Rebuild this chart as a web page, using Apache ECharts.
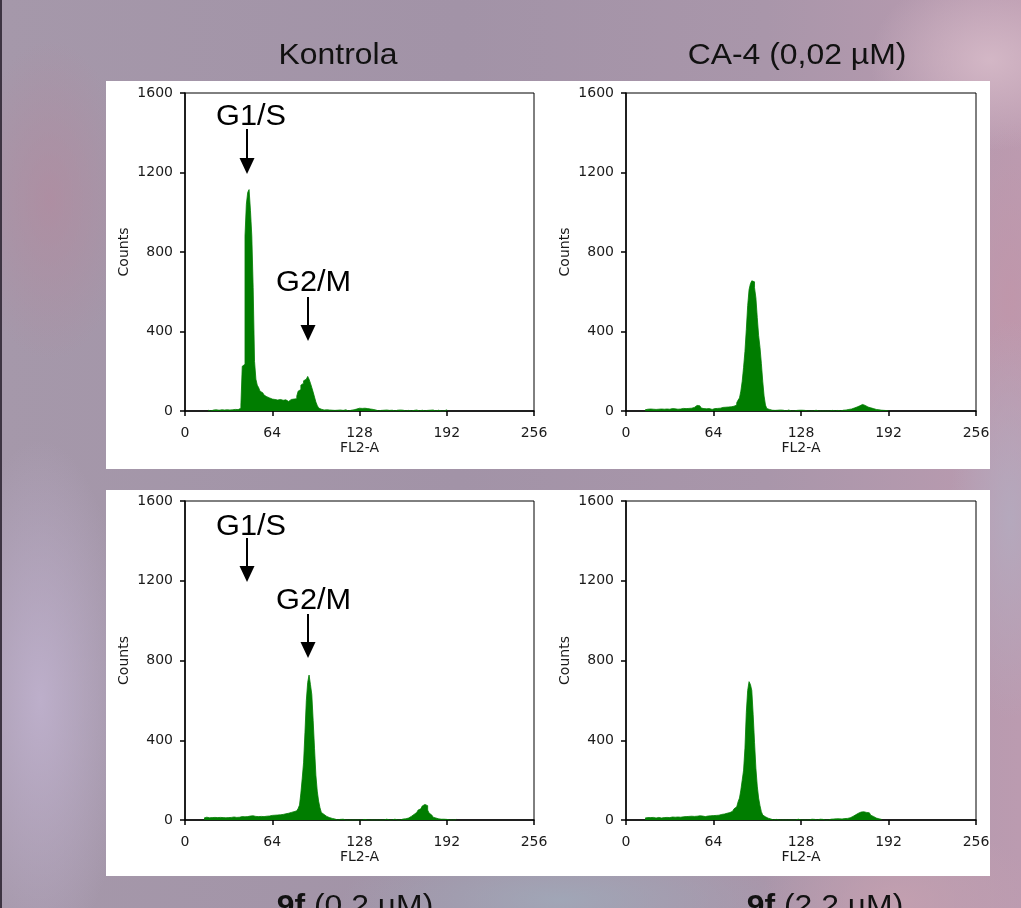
<!DOCTYPE html>
<html>
<head>
<meta charset="utf-8">
<title>FL2-A histogrami</title>
<script src="https://cdn.jsdelivr.net/npm/echarts@6/dist/echarts.min.js"></script>
<style>
html, body { margin: 0; padding: 0; }
body {
    width: 1021px; height: 908px; overflow: hidden; position: relative;
    background:
        radial-gradient(ellipse 120px 90px at 990px 60px, rgba(214,186,200,0.9), rgba(214,186,200,0) 100%),
        radial-gradient(ellipse 90px 260px at 40px 700px, rgba(190,176,204,0.95), rgba(190,176,204,0) 100%),
        radial-gradient(ellipse 80px 160px at 50px 200px, rgba(176,140,160,0.8), rgba(176,140,160,0) 100%),
        radial-gradient(ellipse 220px 60px at 560px 900px, rgba(160,168,184,0.9), rgba(160,168,184,0) 100%),
        radial-gradient(ellipse 140px 80px at 900px 900px, rgba(196,160,176,0.9), rgba(196,160,176,0) 100%),
        radial-gradient(ellipse 60px 200px at 1010px 520px, rgba(180,170,190,0.9), rgba(180,170,190,0) 100%),
        radial-gradient(ellipse 60px 180px at 1010px 300px, rgba(192,150,170,0.9), rgba(192,150,170,0) 100%),
        linear-gradient(90deg, #a598aa 0%, #a293a7 45%, #a996aa 75%, #bb9bb0 100%);
}
#main { position: absolute; left: 0; top: 0; width: 1021px; height: 908px; }
</style>
</head>
<body>
<div id="main"></div>
<script>
// tick labels (shared by all four panels)
const xTicks = [0, 64, 128, 192, 256]
const yTicks = [0, 400, 800, 1200, 1600]
const panelTitles = ['Kontrola', 'CA-4 (0,02 µM)', '{b|9f} (0,2 µM)', '{b|9f} (2,2 µM)']

// counts per FL2-A channel; each array begins at its *Start channel
const ctrlStart = 17
const ctrlCounts = [
    4, 0, 5, 5, 3, 6, 0, 4, 5, 6, 3, 5, 4, 6, 5, 5, 7, 6, 5, 8, 6, 7, 9, 14,
    30, 225, 235, 880, 1040, 1100, 1114, 1010, 880, 620, 250, 160,
    130, 118, 100, 92, 86, 80, 72, 76, 66, 70, 60, 64, 58, 62, 55, 52, 58, 50, 54, 48, 56, 50, 48, 55, 58, 52, 60, 56, 62,
    75, 100, 108, 130, 140, 152, 160, 168, 174, 160, 140, 118, 95, 70, 45, 28, 15, 9, 6,
    5, 4, 6, 3, 5, 0, 4, 5, 3, 6, 4, 0, 5, 4, 3, 5, 6, 4, 0, 5, 4, 3, 6,
    8, 10, 12, 14, 15, 13, 16, 14, 15, 12, 13, 10, 11, 8, 6,
    5, 4, 0, 5, 3, 6, 4, 0, 5, 4, 3, 0, 4, 5, 0, 3, 4, 0, 5, 3, 4, 0, 0, 4, 3, 5, 0, 4, 3, 0, 5, 4, 0, 3, 4, 0, 0, 5, 3, 0, 4, 0, 5, 3, 0, 0, 4, 0, 0, 0, 0, 0, 6
]

const ca4Start = 14
const ca4Counts = [
    6, 9, 8, 10, 7, 9, 11, 8, 10, 9, 7, 10, 8, 9, 11, 10, 8, 9, 10, 12, 9, 11, 10, 9, 12, 10, 11, 13, 10, 12, 11, 13, 12, 14, 16, 18,
    22, 28, 30, 26, 20, 15,
    12, 10, 11, 9, 12, 10, 8, 11, 12, 10, 13, 15, 14, 16, 18, 17, 19, 18, 20, 22, 21, 20, 24, 26,
    30, 42, 55, 66, 100, 150, 220, 300, 410, 530, 610, 640, 655, 650, 620, 570, 470, 380, 320, 240, 150, 75, 30, 12, 8,
    5, 4, 6, 3, 5, 4, 0, 5, 3, 4, 6, 0, 4, 5, 3, 0, 4, 0, 5, 3, 0, 4, 0, 4, 0, 3, 4,
    0, 0, 0, 0, 0, 0, 4, 0, 0, 0, 0, 0, 0, 0, 0, 0, 0, 0, 3,
    4, 0, 5, 3, 4, 0, 5, 4, 6, 5, 7, 8, 9, 10, 12, 15, 18, 20, 23, 26, 30, 33, 32, 28, 24, 20, 19, 16, 14, 12, 10, 8, 7, 6, 5, 4, 4, 3, 3, 2, 0
]

const low9fStart = 14
const low9fCounts = [
    10, 14, 12, 11, 10, 12, 11, 13, 10, 12, 11, 13, 12, 12, 14, 11, 13,
    12, 14, 13, 12, 15, 14, 13, 16, 14, 15, 17, 15, 16, 18, 17, 19, 20, 18, 21, 19,
    18, 20, 17, 19, 18, 20, 17, 21, 19, 22, 20, 21, 23, 22, 24, 23, 25, 24, 26,
    27, 28, 30, 31, 32, 34, 36, 38, 40, 42, 44, 46, 50, 58,
    75, 135, 210, 290, 440, 600, 690, 727, 680, 630, 500, 360, 225, 145, 95, 62, 38, 28, 22, 18, 14, 12, 10, 8, 6,
    5, 4, 0, 5, 3, 0, 4, 0, 0, 3, 0, 0, 0, 0, 0, 4, 0, 0, 0, 0, 0, 0, 3, 0, 0, 0, 0, 0, 0, 4, 0, 0, 0, 3, 0, 0, 0, 0, 4, 0, 0, 3, 0, 0, 4, 0, 0, 3, 0, 4, 5, 4,
    6, 8, 10, 14, 18, 22, 28, 33, 38, 44, 50, 56, 62, 70, 78, 84, 72, 50, 35, 25, 18, 14, 10, 8, 6, 5, 4, 3, 4, 0, 3, 0, 0, 4, 0, 0, 0, 3
]

const high9fStart = 14
const high9fCounts = [
    10, 12, 14, 12, 11, 13, 12, 10, 11, 13, 12, 10, 11, 12, 14, 13, 11, 12, 13, 15, 12, 14, 13, 15, 16, 14, 13, 16, 18, 17, 15, 18, 17, 19, 16, 18, 20, 19, 17, 21, 18, 20, 19, 17, 18, 20, 19,
    21, 20, 22, 24, 23, 25, 24, 26, 28, 27, 30, 32, 34, 35, 37, 40, 44, 48, 56, 66,
    75, 92, 110, 150, 200, 250, 360, 540, 650, 694, 680, 650, 530, 390, 260, 170, 110, 72, 42, 25, 16, 12, 9,
    6, 5, 4, 0, 5, 3, 4, 0, 5, 0, 4, 0, 3, 0, 4, 0, 0, 0, 3, 0, 0, 4, 0, 0, 0, 0, 3, 0, 0, 0, 0, 4, 0, 3, 0, 0, 0, 4, 0, 3, 0, 0, 4, 0, 5, 4, 0, 5, 4, 6, 5, 6, 7, 5, 8, 7, 9, 8, 10, 11,
    14, 18, 22, 26, 30, 34, 38, 40, 42, 41, 40, 38, 42, 36, 30, 24, 18, 14, 10, 8, 6, 4, 3
]

// histogram as a step line: each channel is flat from ch to ch+1
function toSteps(start, counts) {
    const pts = counts.map((v, i) => [start + i, v])
    pts.push([start + counts.length, 0])
    return pts
}

const histograms = [
    toSteps(ctrlStart, ctrlCounts),
    toSteps(ca4Start, ca4Counts),
    toSteps(low9fStart, low9fCounts),
    toSteps(high9fStart, high9fCounts)
]

const green = '#007d00'
const tickFont = { fontFamily: 'DejaVu Sans', fontSize: 14, color: '#1a1a1a' }
const bigFont = 'Liberation Sans'

// plot boxes of the four panels
const boxes = [
    { left: 185, top: 93, width: 349, height: 318 },
    { left: 626, top: 93, width: 350, height: 318 },
    { left: 185, top: 501, width: 349, height: 319 },
    { left: 626, top: 501, width: 350, height: 319 }
]

const grids = boxes.map(b => ({
    left: b.left, top: b.top, width: b.width, height: b.height,
    show: true, borderColor: '#000', borderWidth: 1, backgroundColor: 'transparent'
}))

const xAxes = boxes.map((b, i) => ({
    type: 'value', gridIndex: i,
    min: xTicks[0], max: xTicks[xTicks.length - 1], interval: xTicks[1] - xTicks[0],
    name: 'FL2-A', nameLocation: 'middle', nameGap: 30,
    nameTextStyle: tickFont,
    axisLine: { show: true, onZero: false, lineStyle: { color: '#000', width: 1.5 } },
    axisTick: { show: true, inside: false, length: 5, lineStyle: { color: '#000', width: 1.5 } },
    axisLabel: Object.assign({ margin: 15, formatter: v => String(v) }, tickFont),
    splitLine: { show: false }
}))

const yAxes = boxes.map((b, i) => ({
    type: 'value', gridIndex: i,
    min: yTicks[0], max: yTicks[yTicks.length - 1], interval: yTicks[1] - yTicks[0],
    name: 'Counts', nameLocation: 'middle', nameGap: 54,
    nameTextStyle: tickFont,
    axisLine: { show: true, lineStyle: { color: '#000', width: 1.5 } },
    axisTick: { show: true, inside: false, length: 5, lineStyle: { color: '#000', width: 1.5 } },
    axisLabel: Object.assign({ margin: 12, formatter: v => String(v) }, tickFont),
    splitLine: { show: false }
}))

const series = histograms.map((h, i) => ({
    type: 'line', xAxisIndex: i, yAxisIndex: i,
    data: h, step: 'end', symbol: 'none',
    lineStyle: { color: green, width: 0.8 },
    areaStyle: { color: green, opacity: 1 },
    silent: true
}))

// arrow: vertical line with solid head
function arrow(x, y1, y2) {
    return [
        { type: 'line', shape: { x1: x, y1: y1, x2: x, y2: y2 - 14 }, style: { stroke: '#000', lineWidth: 2 }, z: 20 },
        { type: 'polygon', shape: { points: [[x - 7.5, y2 - 16], [x + 7.5, y2 - 16], [x, y2]] }, style: { fill: '#000' }, z: 20 }
    ]
}

function label(text, x, y) {
    return { type: 'text', x: x, y: y, z: 20, scaleX: 1.06,
        style: { text: text, font: '29px "' + bigFont + '"', fill: '#000', textVerticalAlign: 'middle' } }
}

function title(text, cx, y) {
    return { type: 'text', x: cx, y: y, z: 20, scaleX: 1.1,
        style: { text: text, fill: '#111', align: 'center', verticalAlign: 'middle',
            fontFamily: bigFont, fontSize: 29,
            rich: { b: { fontFamily: bigFont, fontSize: 29, fontWeight: 'bold', fill: '#111' } } } }
}

const graphics = [
    { type: 'rect', shape: { x: 0, y: 0, width: 2, height: 908 }, style: { fill: '#3d3442' }, z: -10 },
    { type: 'rect', shape: { x: 106, y: 81, width: 884, height: 388 }, style: { fill: '#fff' }, z: -10 },
    { type: 'rect', shape: { x: 106, y: 490, width: 884, height: 386 }, style: { fill: '#fff' }, z: -10 },
    title(panelTitles[0], 338, 56),
    title(panelTitles[1], 797, 56),
    title(panelTitles[2], 355, 907),
    title(panelTitles[3], 825, 907),
    label('G1/S', 216, 117),
    label('G2/M', 276, 283),
    label('G1/S', 216, 527),
    label('G2/M', 276, 601),
    ...arrow(247, 129, 174),
    ...arrow(308, 297, 341),
    ...arrow(247, 538, 582),
    ...arrow(308, 614, 658)
]

const chart = echarts.init(document.getElementById('main'), null, { renderer: 'canvas' })
chart.setOption({
    animation: false,
    backgroundColor: 'transparent',
    grid: grids,
    xAxis: xAxes,
    yAxis: yAxes,
    series: series,
    graphic: graphics
})
</script>
</body>
</html>
